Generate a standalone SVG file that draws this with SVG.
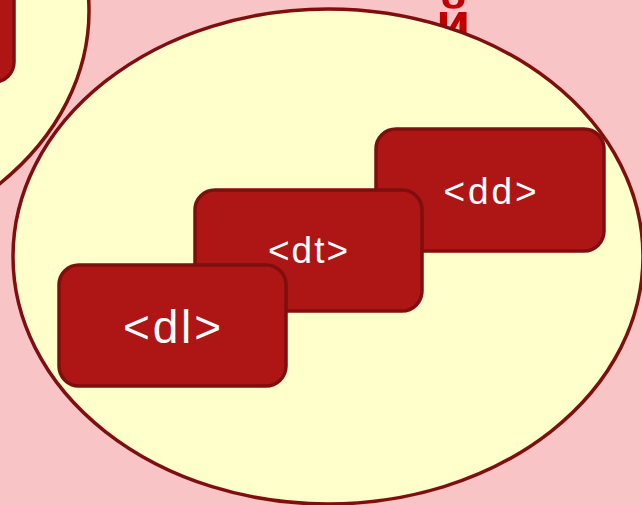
<svg xmlns="http://www.w3.org/2000/svg" width="642" height="505" viewBox="0 0 642 505">
  <style>
    .oval { fill: #FFFFCC; stroke: #7F0F0F; stroke-width: 3.5; }
    .box { fill: #AE1515; stroke: #7F0F0F; stroke-width: 3.5; }
    .lbl { fill: #FFFFFF; font-family: "Liberation Sans", Arial, sans-serif; text-anchor: middle; }
    .title { fill: #C00000; font-family: "Liberation Sans", Arial, sans-serif; font-weight: bold; }
  </style>
  <rect id="background" x="0" y="0" width="642" height="505" fill="#F8C4C5"/>
  <g id="oval-previous">
    <ellipse class="oval" cx="-226" cy="11" rx="315" ry="247.5"/>
    <rect class="box" x="-200" y="-100" width="214" height="182" rx="20" ry="20"/>
  </g>
  <g id="title">
    <text class="title" x="436" y="41" font-size="56">й</text>
  </g>
  <g id="oval-main">
    <ellipse class="oval" cx="328" cy="256.5" rx="315" ry="247.5"/>
  </g>
  <g id="connectors"/>
  <g id="node-dd">
    <rect class="box" x="376" y="129" width="228" height="122" rx="20" ry="20"/>
    <text class="lbl" x="490" y="204" font-size="37" textLength="93" lengthAdjust="spacing">&lt;dd&gt;</text>
  </g>
  <g id="node-dt">
    <rect class="box" x="195" y="190" width="227" height="121" rx="20" ry="20"/>
    <text class="lbl" x="308" y="263" font-size="37" textLength="80" lengthAdjust="spacing">&lt;dt&gt;</text>
  </g>
  <g id="node-dl">
    <rect class="box" x="59" y="265" width="227" height="121" rx="20" ry="20"/>
    <text class="lbl" x="172" y="343" font-size="46" textLength="98" lengthAdjust="spacing">&lt;dl&gt;</text>
  </g>
</svg>
